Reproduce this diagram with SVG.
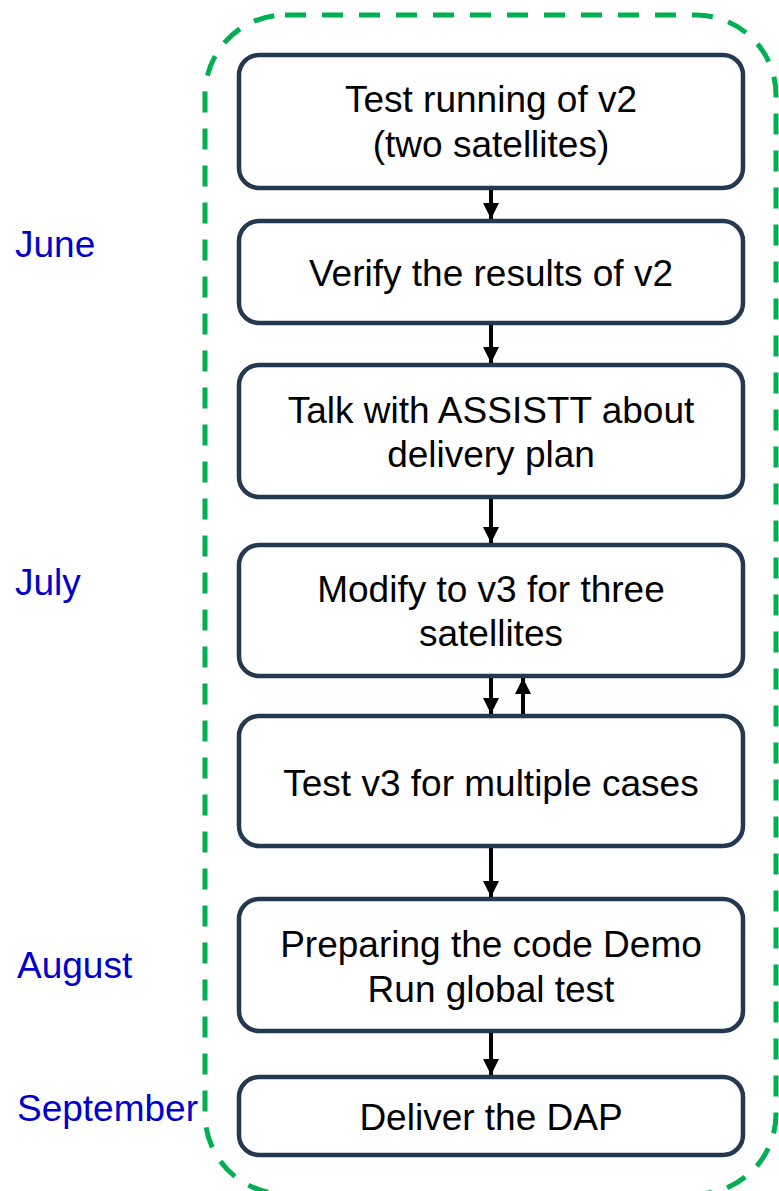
<svg xmlns="http://www.w3.org/2000/svg" width="779" height="1191" viewBox="0 0 779 1191">
  <style>
    .box { fill: #ffffff; stroke: #243850; stroke-width: 4.5; }
    .lbl { font-family: "Liberation Sans", Arial, sans-serif; font-size: 37px; fill: #000000; text-anchor: middle; }
    .month { font-family: "Liberation Sans", Arial, sans-serif; font-size: 37px; fill: #0000CC; }
    .conn { stroke: #000000; stroke-width: 4; fill: none; }
    .frame { fill: none; stroke: #00B050; stroke-width: 5; stroke-dasharray: 21 16; }
  </style>
  <defs>
    <marker id="head" viewBox="0 0 16 16" refX="16" refY="8" markerWidth="16" markerHeight="16" markerUnits="userSpaceOnUse" orient="auto">
      <path d="M0,0 L16,8 L0,16 Z" fill="#000000"/>
    </marker>
  </defs>
  <rect width="779" height="1191" fill="#ffffff"/>

  <!-- dashed frame around the process; its bottom edge runs just past the canvas -->
  <rect class="frame" x="205" y="15" width="571" height="1179" rx="80" ry="80"/>

  <!-- month labels -->
  <g id="months">
    <text class="month" x="15" y="257">June</text>
    <text class="month" x="15" y="595">July</text>
    <text class="month" x="17" y="978">August</text>
    <text class="month" x="17" y="1121">September</text>
  </g>

  <g id="step1">
    <rect class="box" x="239" y="55" width="504" height="133" rx="20"/>
    <text class="lbl" x="491" y="112">Test running of v2</text>
    <text class="lbl" x="491" y="157">(two satellites)</text>
  </g>
  <g id="step2">
    <rect class="box" x="239" y="221" width="504" height="102" rx="20"/>
    <text class="lbl" x="491" y="286">Verify the results of v2</text>
  </g>
  <g id="step3">
    <rect class="box" x="239" y="365" width="504" height="132" rx="20"/>
    <text class="lbl" x="491" y="423">Talk with ASSISTT about</text>
    <text class="lbl" x="491" y="467">delivery plan</text>
  </g>
  <g id="step4">
    <rect class="box" x="239" y="545" width="504" height="131" rx="20"/>
    <text class="lbl" x="491" y="602">Modify to v3 for three</text>
    <text class="lbl" x="491" y="646">satellites</text>
  </g>
  <g id="step5">
    <rect class="box" x="239" y="716" width="504" height="130" rx="20"/>
    <text class="lbl" x="491" y="796">Test v3 for multiple cases</text>
  </g>
  <g id="step6">
    <rect class="box" x="239" y="899" width="504" height="132" rx="20"/>
    <text class="lbl" x="491" y="957">Preparing the code Demo</text>
    <text class="lbl" x="491" y="1002">Run global test</text>
  </g>
  <g id="step7">
    <rect class="box" x="239" y="1077" width="504" height="78" rx="20"/>
    <text class="lbl" x="491" y="1130">Deliver the DAP</text>
  </g>

  <g id="connectors">
    <line class="conn" x1="491" y1="190" x2="491" y2="219" marker-end="url(#head)"/>
    <line class="conn" x1="491" y1="325" x2="491" y2="363" marker-end="url(#head)"/>
    <line class="conn" x1="491" y1="499" x2="491" y2="543" marker-end="url(#head)"/>
    <line class="conn" x1="491" y1="678" x2="491" y2="714" marker-end="url(#head)"/>
    <line class="conn" x1="523" y1="714" x2="523" y2="678" marker-end="url(#head)"/>
    <line class="conn" x1="491" y1="848" x2="491" y2="897" marker-end="url(#head)"/>
    <line class="conn" x1="491" y1="1033" x2="491" y2="1075" marker-end="url(#head)"/>
  </g>
</svg>
